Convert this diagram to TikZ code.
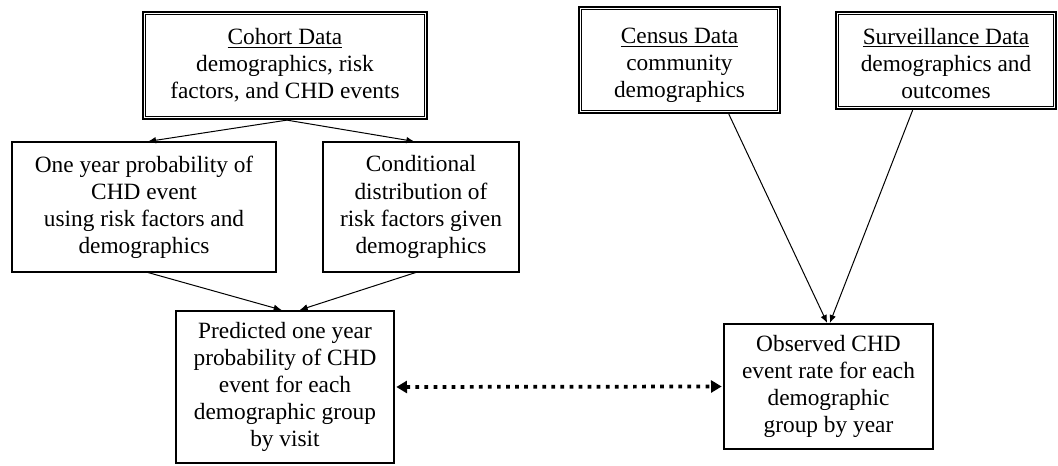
\documentclass[tikz,border=0pt]{standalone}
\usepackage{fontspec}
\setmainfont{Liberation Serif}
\usetikzlibrary{arrows.meta,calc}
\tikzset{
  txt/.style={font=\fontsize{17.5pt}{20.3pt}\selectfont, align=center, inner sep=0pt},
  dbox/.style={txt, draw, line width=1.7pt},
  thinbox/.style={txt, draw, line width=0.8pt},
  thickbox/.style={txt, draw, line width=1.5pt},
  arr/.style={line width=0.75pt, -{Latex[length=6pt,width=5pt]}},
  dotarr/.style={line width=2.8pt, dash pattern=on 2.8pt off 4pt,
    {Triangle[length=8pt,width=9pt]}-{Triangle[length=8pt,width=9pt]}, shorten <=1pt, shorten >=1pt}
}
\newcommand{\innerframe}[1]{\draw[line width=0.7pt] ([shift={(2.9pt,2.9pt)}]#1.south west) rectangle ([shift={(-2.9pt,-2.9pt)}]#1.north east);}
\begin{document}
\begin{tikzpicture}[x=0.75pt,y=-0.75pt]
\path[fill=white,use as bounding box] (0,0) rectangle (1058,466);

\node[dbox, minimum width=213pt, minimum height=80.25pt] (cohort) at (285,65.5)
  {\underline{Cohort Data}\\demographics, risk\\factors, and CHD events};
\innerframe{cohort}
\node[dbox, minimum width=150.75pt, minimum height=79.5pt] (census) at (679.5,60)
  {\rule{0pt}{20pt}\underline{Census Data}\\community\\demographics};
\innerframe{census}
\node[dbox, minimum width=165pt, minimum height=72.75pt] (surv) at (946,60.5)
  {\rule{0pt}{17pt}\underline{Surveillance Data}\\demographics and\\outcomes};
\innerframe{surv}

\node[thinbox, minimum width=198pt, minimum height=97.5pt] (one) at (144,207)
  {One year probability of\\CHD event\\using risk factors and\\demographics};
\node[thinbox, minimum width=147pt, minimum height=97.5pt] (cond) at (421,207)
  {Conditional\\distribution of\\risk factors given\\demographics};

\node[thickbox, minimum width=163.5pt, minimum height=114pt] (pred) at (285,387)
  {Predicted one year\\probability of CHD\\event for each\\demographic group\\by visit};
\node[thickbox, minimum width=156.75pt, minimum height=93.75pt] (obs) at (828.5,386.5)
  {Observed CHD\\event rate for each\\demographic\\group by year};

\draw[arr] ([xshift=1.5pt]cohort.south) -- ([xshift=3pt]one.north);
\draw[arr] ([xshift=1.5pt]cohort.south) -- ([xshift=-5pt]cond.north);
\draw[arr] ([xshift=3pt]one.south) -- ([xshift=-2.5pt]pred.north);
\draw[arr] ([xshift=-4pt]cond.south) -- ([xshift=11pt]pred.north);
\draw[arr] ([xshift=37pt]census.south) -- ([xshift=-1pt]obs.north);
\draw[arr] ([xshift=-25pt]surv.south) -- ([xshift=1pt]obs.north);
\draw[dotarr] (pred.east) -- (obs.west);
\end{tikzpicture}
\end{document}
